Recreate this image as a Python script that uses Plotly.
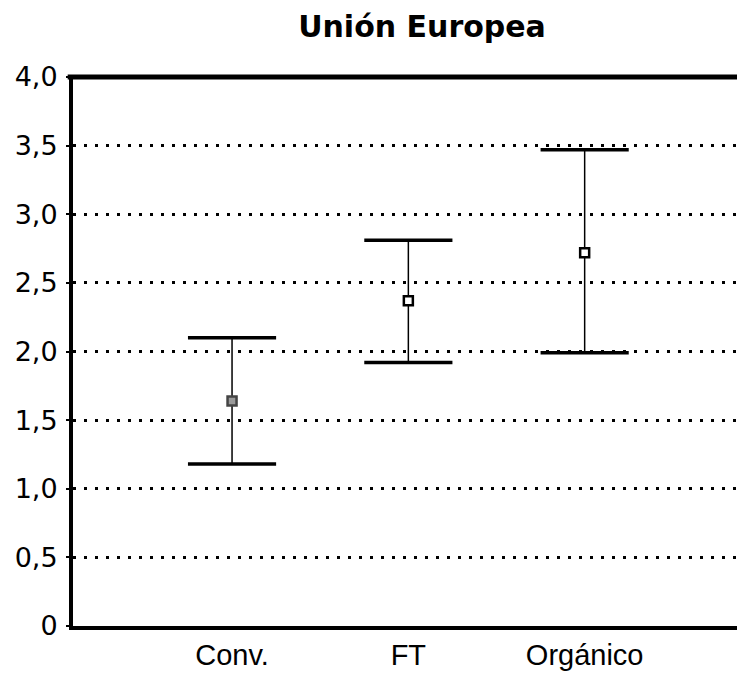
import plotly.graph_objects as go

# Means and interval limits for each product type
categories = ["Conv.", "FT", "Orgánico"]
means = [1.64, 2.37, 2.72]
upper = [2.10, 2.81, 3.47]
lower = [1.18, 1.92, 1.99]

y_tickvals = [0, 0.5, 1.0, 1.5, 2.0, 2.5, 3.0, 3.5, 4.0]
y_ticktext = ["0", "0,5", "1,0", "1,5", "2,0", "2,5", "3,0", "3,5", "4,0"]

xpos = list(range(len(categories)))
err_plus = [u - m for u, m in zip(upper, means)]
err_minus = [m - l for m, l in zip(means, lower)]

fig = go.Figure()

# Heavy horizontal caps at the interval limits
fig.add_trace(go.Scatter(
    x=xpos + xpos, y=upper + lower, mode="markers",
    marker=dict(size=1, color="rgba(0,0,0,0)"),
    error_x=dict(type="constant", value=0.25, color="black",
                 thickness=3.5, width=0),
    showlegend=False, hoverinfo="skip",
))

# Thin vertical whiskers with the mean markers
fig.add_trace(go.Scatter(
    x=xpos, y=means, mode="markers",
    marker=dict(symbol="square", size=9,
                color=["#9a9a9a", "white", "white"],
                line=dict(color=["#444444", "black", "black"], width=2.5)),
    error_y=dict(type="data", array=err_plus, arrayminus=err_minus,
                 color="black", thickness=1.5, width=0),
    showlegend=False, hoverinfo="skip",
))

# Heavy frame line along the top of the plotting area (paper refs avoid clipping)
fig.add_shape(type="line", xref="paper", yref="paper", x0=-0.008, x1=1,
              y0=1, y1=1, line=dict(color="black", width=5))

fig.update_layout(
    width=737, height=674,
    margin=dict(l=73, r=0, t=77, b=48),
    paper_bgcolor="white", plot_bgcolor="white",
    title=dict(text="<b>Unión Europea</b>", x=422 / 737, xref="container",
               xanchor="center", y=1 - 26 / 674, yref="container",
               yanchor="middle",
               font=dict(family="DejaVu Sans", size=30, color="black")),
    xaxis=dict(range=[-0.902, 2.864], tickvals=xpos, ticktext=categories,
               showgrid=False, zeroline=False, showline=True,
               linecolor="black", linewidth=4, ticks="",
               tickfont=dict(family="Liberation Sans", size=29, color="black"),
               ticklabelstandoff=0),
    yaxis=dict(range=[0, 4], tickvals=y_tickvals, ticktext=y_ticktext,
               showgrid=True, gridcolor="black", gridwidth=3,
               griddash="3px,8px", zeroline=False, showline=True,
               linecolor="black", linewidth=4, ticks="outside", ticklen=3,
               tickwidth=2, tickcolor="black",
               tickfont=dict(family="DejaVu Sans", size=27, color="black"),
               ticklabelstandoff=3),
)

fig.write_html("out.html")
